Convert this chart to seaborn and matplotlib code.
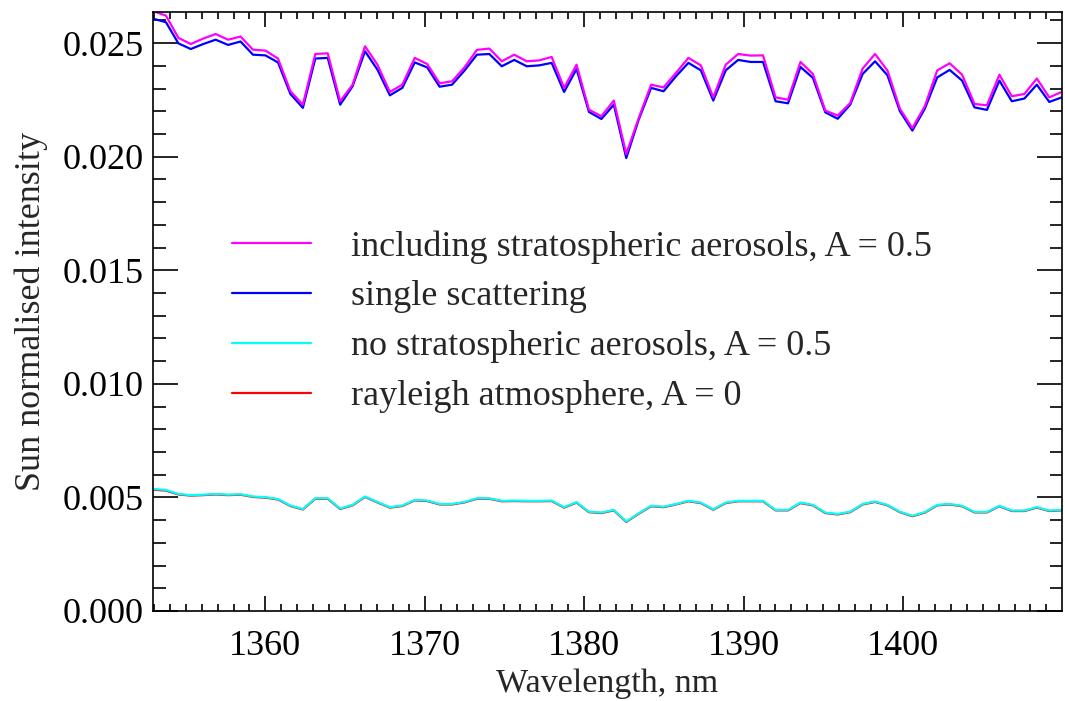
import matplotlib
matplotlib.use("Agg")
import pandas as pd
import matplotlib.pyplot as plt
import seaborn as sns
from matplotlib.ticker import MultipleLocator, FormatStrFormatter

# wavelength grid, nm
wavelength = [
    1352.98, 1353.76, 1354.54, 1355.32, 1356.10, 1356.88, 1357.66, 1358.44, 1359.22, 1360.00,
    1360.79, 1361.57, 1362.35, 1363.13, 1363.91, 1364.69, 1365.47, 1366.25, 1367.03, 1367.81,
    1368.59, 1369.37, 1370.15, 1370.93, 1371.71, 1372.49, 1373.27, 1374.05, 1374.83, 1375.61,
    1376.40, 1377.18, 1377.96, 1378.74, 1379.52, 1380.30, 1381.08, 1381.86, 1382.64, 1383.42,
    1384.20, 1384.98, 1385.76, 1386.54, 1387.32, 1388.10, 1388.88, 1389.66, 1390.44, 1391.22,
    1392.01, 1392.79, 1393.57, 1394.35, 1395.13, 1395.91, 1396.69, 1397.47, 1398.25, 1399.03,
    1399.81, 1400.59, 1401.37, 1402.15, 1402.93, 1403.71, 1404.49, 1405.27, 1406.05, 1406.83,
    1407.62, 1408.40, 1409.18, 1409.96,
]

# including stratospheric aerosols, A = 0.5
strat_aer = [
    0.02640, 0.02621, 0.02523, 0.02496, 0.02520, 0.02540, 0.02515, 0.02529, 0.02471, 0.02467,
    0.02432, 0.02288, 0.02229, 0.02452, 0.02455, 0.02244, 0.02317, 0.02486, 0.02405, 0.02285,
    0.02317, 0.02435, 0.02408, 0.02323, 0.02332, 0.02393, 0.02470, 0.02476, 0.02420, 0.02449,
    0.02420, 0.02424, 0.02439, 0.02303, 0.02405, 0.02207, 0.02178, 0.02247, 0.02012, 0.02170,
    0.02317, 0.02305, 0.02369, 0.02435, 0.02402, 0.02261, 0.02405, 0.02452, 0.02445, 0.02446,
    0.02261, 0.02251, 0.02417, 0.02364, 0.02203, 0.02181, 0.02236, 0.02388, 0.02452, 0.02379,
    0.02211, 0.02126, 0.02222, 0.02380, 0.02411, 0.02361, 0.02232, 0.02226, 0.02361, 0.02266,
    0.02276, 0.02344, 0.02261, 0.02285,
]

# single scattering
single_scat = [
    0.02607, 0.02592, 0.02499, 0.02474, 0.02496, 0.02515, 0.02492, 0.02507, 0.02449, 0.02446,
    0.02415, 0.02276, 0.02215, 0.02432, 0.02435, 0.02229, 0.02310, 0.02464, 0.02383, 0.02270,
    0.02303, 0.02415, 0.02393, 0.02308, 0.02317, 0.02379, 0.02449, 0.02452, 0.02398, 0.02426,
    0.02398, 0.02402, 0.02413, 0.02285, 0.02386, 0.02197, 0.02166, 0.02229, 0.01994, 0.02163,
    0.02303, 0.02288, 0.02354, 0.02413, 0.02380, 0.02247, 0.02380, 0.02426, 0.02417, 0.02417,
    0.02244, 0.02235, 0.02395, 0.02347, 0.02195, 0.02167, 0.02229, 0.02364, 0.02420, 0.02358,
    0.02200, 0.02115, 0.02211, 0.02349, 0.02382, 0.02335, 0.02217, 0.02206, 0.02335, 0.02244,
    0.02256, 0.02317, 0.02241, 0.02261,
]

# no stratospheric aerosols, A = 0.5
no_strat = [
    0.00537, 0.00533, 0.00515, 0.00510, 0.00512, 0.00515, 0.00512, 0.00514, 0.00504, 0.00501,
    0.00493, 0.00464, 0.00449, 0.00496, 0.00496, 0.00451, 0.00467, 0.00504, 0.00480, 0.00457,
    0.00464, 0.00489, 0.00486, 0.00471, 0.00471, 0.00480, 0.00496, 0.00496, 0.00485, 0.00486,
    0.00485, 0.00485, 0.00486, 0.00457, 0.00479, 0.00437, 0.00433, 0.00445, 0.00394, 0.00430,
    0.00463, 0.00459, 0.00471, 0.00485, 0.00477, 0.00448, 0.00477, 0.00485, 0.00485, 0.00485,
    0.00445, 0.00445, 0.00477, 0.00467, 0.00433, 0.00427, 0.00437, 0.00471, 0.00482, 0.00467,
    0.00437, 0.00419, 0.00435, 0.00467, 0.00471, 0.00463, 0.00436, 0.00436, 0.00463, 0.00442,
    0.00442, 0.00457, 0.00442, 0.00445,
]

# rayleigh atmosphere, A = 0
rayleigh = [
    0.00534, 0.00530, 0.00513, 0.00508, 0.00510, 0.00513, 0.00510, 0.00512, 0.00502, 0.00499,
    0.00491, 0.00462, 0.00447, 0.00494, 0.00494, 0.00449, 0.00465, 0.00502, 0.00478, 0.00455,
    0.00462, 0.00487, 0.00484, 0.00469, 0.00469, 0.00478, 0.00494, 0.00494, 0.00483, 0.00484,
    0.00483, 0.00483, 0.00484, 0.00455, 0.00477, 0.00435, 0.00431, 0.00443, 0.00392, 0.00428,
    0.00461, 0.00457, 0.00469, 0.00483, 0.00475, 0.00446, 0.00475, 0.00483, 0.00483, 0.00483,
    0.00443, 0.00443, 0.00475, 0.00465, 0.00431, 0.00425, 0.00435, 0.00469, 0.00480, 0.00465,
    0.00435, 0.00417, 0.00433, 0.00465, 0.00469, 0.00461, 0.00434, 0.00434, 0.00461, 0.00440,
    0.00440, 0.00455, 0.00440, 0.00443,
]

df = pd.DataFrame({
    "wl": wavelength,
    "strat": strat_aer,
    "single": single_scat,
    "nostrat": no_strat,
    "rayleigh": rayleigh,
})

sns.set_style("ticks")
plt.rcParams["font.family"] = ["Liberation Serif", "DejaVu Serif"]

fig = plt.figure(figsize=(10.65, 7.01), dpi=100)
ax = fig.add_axes([0.1437, 0.1284, 0.8535, 0.8545])

# draw order: red under cyan, blue under magenta
sns.lineplot(data=df, x="wl", y="rayleigh", color="#ff0000", lw=1.6, ax=ax,
             label="rayleigh atmosphere, A = 0")
sns.lineplot(data=df, x="wl", y="nostrat", color="#00ffff", lw=1.6, ax=ax,
             label="no stratospheric aerosols, A = 0.5")
sns.lineplot(data=df, x="wl", y="single", color="#0000ff", lw=1.6, ax=ax,
             label="single scattering")
sns.lineplot(data=df, x="wl", y="strat", color="#ff00ff", lw=1.6, ax=ax,
             label="including stratospheric aerosols, A = 0.5")

ax.set_xlim(1352.95, 1409.98)
ax.set_ylim(0, 0.02637)
ax.xaxis.set_major_locator(MultipleLocator(10))
ax.xaxis.set_minor_locator(MultipleLocator(1))
ax.yaxis.set_major_locator(MultipleLocator(0.005))
ax.yaxis.set_minor_locator(MultipleLocator(0.001))
ax.yaxis.set_major_formatter(FormatStrFormatter("%.3f"))

ax.tick_params(axis="both", which="both", direction="in", top=True, right=True,
               labelsize=26, colors="black", width=1.2)
ax.tick_params(axis="x", which="major", length=11, pad=14)
ax.tick_params(axis="x", which="minor", length=5)
ax.tick_params(axis="y", which="major", length=18, pad=7)
ax.tick_params(axis="y", which="minor", length=9)
for s in ax.spines.values():
    s.set_linewidth(1.2)
    s.set_color("black")

ax.set_xlabel("Wavelength, nm", fontsize=24.5, labelpad=4)
ax.set_ylabel("Sun normalised intensity", fontsize=26, labelpad=10)

h, l = ax.get_legend_handles_labels()
order = [3, 2, 1, 0]
ax.legend([h[i] for i in order], [l[i] for i in order],
          loc="upper left", bbox_to_anchor=(232 / 1065, 1 - 230 / 701),
          bbox_transform=fig.transFigure, frameon=False, fontsize=26,
          handlelength=2.2, handletextpad=1.1, labelspacing=0.46,
          borderpad=0, borderaxespad=0)

fig.savefig("out.png", dpi=100)
